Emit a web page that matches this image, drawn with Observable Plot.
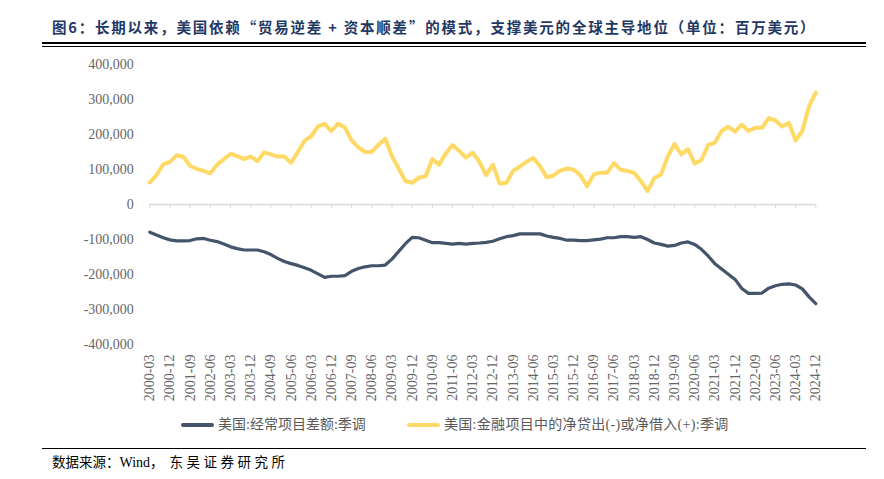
<!DOCTYPE html>
<html><head><meta charset="utf-8">
<script src="https://cdn.jsdelivr.net/npm/d3@7"></script>
<script src="https://cdn.jsdelivr.net/npm/@observablehq/plot@0.6"></script>
<style>
body{margin:0;background:#fff;}
#wrap{position:relative;width:884px;height:479px;overflow:hidden;background:#fff;}
#chart{position:absolute;left:0;top:0;}
.title{position:absolute;left:52px;top:17px;font-weight:bold;font-size:14.5px;letter-spacing:1.8px;font-family:"Noto Sans CJK SC";color:#1F3864;white-space:nowrap;line-height:20px;}
.rule{position:absolute;left:42px;width:824px;background:#000;}
.legend{position:absolute;top:416px;font-size:14px;font-family:"Liberation Serif","Noto Sans CJK SC";color:#595959;white-space:nowrap;line-height:18px;}
.sw{display:inline-block;width:33px;height:4px;border-radius:2px;vertical-align:middle;margin-right:4px;position:relative;top:-1px;}
.source{position:absolute;left:52px;top:452px;font-size:13.5px;font-family:"Noto Sans CJK SC";color:#000;white-space:nowrap;line-height:18px;}
.source .en{font-family:"Liberation Serif";font-size:14px;letter-spacing:0;}
</style>
</head><body>
<div id="wrap">
  <div id="chart"></div>
  <div class="title">图6：长期以来，美国依赖“贸易逆差 + 资本顺差”的模式，支撑美元的全球主导地位（单位：百万美元）</div>
  <div class="rule" style="top:42px;height:2px;"></div>
  <div class="rule" style="top:45.5px;height:1px;"></div>
  <div class="legend" style="left:181px;"><span class="sw" style="background:#44546A"></span>美国:经常项目差额:季调</div>
  <div class="legend" style="left:407px;letter-spacing:0.3px;"><span class="sw" style="background:#FFD966"></span>美国:金融项目中的净贷出(-)或净借入(+):季调</div>
  <div class="rule" style="top:447.5px;height:1.3px;"></div>
  <div class="source"><span>数据来源：</span><span class="en">Wind</span><span style="letter-spacing:6px">，</span><span style="letter-spacing:3.5px">东吴证券研究所</span></div>
</div>
<script>
const years = d3.range(2000, 2025);
const months = ["03", "06", "09", "12"];
const quarters = years.flatMap(y => months.map(m => `${y}-${m}`));

const tickLabels = ["2000-03","2000-12","2001-09","2002-06","2003-03","2003-12","2004-09","2005-06","2006-03","2006-12","2007-09","2008-06","2009-03","2009-12","2010-09","2011-06","2012-03","2012-12","2013-09","2014-06","2015-03","2015-12","2016-09","2017-06","2018-03","2018-12","2019-09","2020-06","2021-03","2021-12","2022-09","2023-06","2024-03","2024-12"];

const yTicks = [-400000,-300000,-200000,-100000,0,100000,200000,300000,400000];

const seriesNames = ["美国:经常项目差额:季调", "美国:金融项目中的净贷出(-)或净借入(+):季调"];

const currentAccount = [
 -79000,-87000,-95000,-101000,-104000,-104000,-103000,-98000,-97000,-102000,
 -106000,-113000,-121000,-126000,-130000,-130000,-130000,-135000,-143000,-154000,
 -163000,-169000,-174000,-181000,-188000,-198000,-208000,-205000,-205000,-203000,
 -191000,-183000,-178000,-175000,-175000,-173000,-156000,-134000,-112000,-94000,
 -95000,-102000,-109000,-109000,-111000,-113000,-111000,-113000,-111000,-110000,
 -108000,-105000,-98000,-92000,-89000,-84000,-84000,-84000,-84000,-90000,
 -94000,-97000,-102000,-102000,-103000,-103000,-101000,-99000,-95000,-95000,
 -92000,-92000,-94000,-92000,-100000,-110000,-114000,-119000,-117000,-110000,
 -107000,-114000,-128000,-147000,-169000,-184000,-199000,-214000,-240000,-254000,
 -254000,-253000,-239000,-232000,-228000,-227000,-230000,-241000,-264000,-283000
];

const financialNet = [
 63000,84000,115000,122000,141000,136000,110000,102000,96000,89000,
 114000,129000,145000,138000,130000,137000,124000,149000,143000,137000,
 137000,119000,150000,182000,195000,223000,230000,210000,231000,220000,
 183000,163000,150000,150000,171000,188000,138000,103000,67000,62000,
 77000,80000,130000,114000,146000,170000,153000,134000,148000,122000,
 84000,114000,60000,62000,96000,108000,122000,133000,110000,78000,
 83000,97000,102000,100000,84000,52000,86000,91000,91000,118000,
 99000,96000,90000,67000,38000,76000,86000,138000,173000,143000,
 158000,117000,127000,170000,177000,210000,222000,208000,228000,210000,
 219000,219000,247000,240000,223000,233000,183000,210000,281000,320000
];

const rows = quarters.map((q, i) => ({q, ca: currentAccount[i], fn: financialNet[i]}));
const fmt = d => d.toLocaleString("en-US");

const chart = Plot.plot({
  width: 884,
  height: 410,
  marginTop: 64,
  marginBottom: 66,
  marginLeft: 149.3,
  marginRight: 68.7,
  style: {fontFamily: "Liberation Serif", fontSize: "14px", background: "transparent"},
  x: {type: "point", domain: quarters, padding: 0, label: null},
  y: {domain: [-400000, 400000], label: null},
  marks: [
    Plot.ruleY([0], {stroke: "#D9D9D9", strokeWidth: 1.5}),
    Plot.ruleX(tickLabels, {x: d => d, y1: 0, y2: 0, insetBottom: -4, stroke: "#D9D9D9", strokeWidth: 1}),
    Plot.axisY(yTicks, {anchor: "left", tickSize: 0, tickPadding: 16, tickFormat: fmt, fill: "#666", fontSize: 14, label: null}),
    Plot.axisX(tickLabels, {anchor: "bottom", tickSize: 0, tickPadding: 10, tickRotate: -90, fill: "#666", fontSize: 14, label: null}),
    Plot.line(rows, {x: "q", y: "fn", stroke: "#FFD966", strokeWidth: 4, strokeLinejoin: "round", strokeLinecap: "round"}),
    Plot.line(rows, {x: "q", y: "ca", stroke: "#44546A", strokeWidth: 3.2, strokeLinejoin: "round", strokeLinecap: "round"})
  ]
});
document.getElementById("chart").appendChild(chart);
</script>
</body></html>
